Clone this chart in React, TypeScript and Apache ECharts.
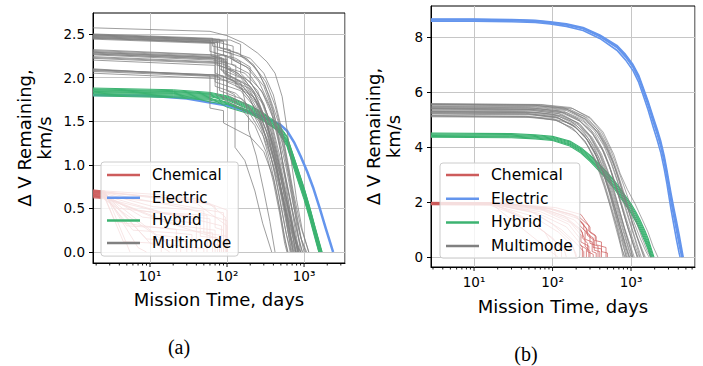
import React, { useEffect, useRef } from 'react';
import * as echarts from 'echarts';

type Pt = [number, number];

const FONT = 'DejaVu Sans';
const LEGEND_NAMES = ['Chemical', 'Electric', 'Hybrid', 'Multimode'];
const C_RED = '#cd5c5c';
const C_BLUE = '#6495ed';
const C_GREEN = '#3cb371';
const C_GRAY = '#808080';

// ---------------- Panel (a) ----------------
const Y_TICKS_A = [0, 0.5, 1.0, 1.5, 2.0, 2.5];
const X_MAJOR_A = [10, 100, 1000];
const X_MINOR_A = [2, 3, 4, 5, 6, 7, 8, 9, 20, 30, 40, 50, 60, 70, 80, 90, 200, 300, 400, 500, 600, 700, 800, 900, 2000, 3000];

const CHEM_A: Pt[][] = [
  [[1.82, 0.71], [2.6, 0.70], [5.5, 0]],
  [[1.82, 0.70], [2.5, 0.69], [7, 0.05], [9, 0]],
  [[1.82, 0.69], [2.6, 0.68], [10, 0.10], [14, 0.06], [14, 0]],
  [[1.82, 0.68], [2.5, 0.67], [12, 0.20], [25, 0.16], [25, 0]],
  [[1.82, 0.67], [2.6, 0.66], [8, 0.40], [40, 0.33], [40, 0]],
  [[1.82, 0.66], [2.5, 0.65], [15, 0.45], [60, 0.38], [60, 0.10], [80, 0.08], [80, 0]],
  [[1.82, 0.71], [2.6, 0.70], [12, 0.66], [40, 0.61], [100, 0.48], [100, 0]],
  [[1.82, 0.65], [2.5, 0.64], [20, 0.55], [90, 0.45], [90, 0]],
  [[1.82, 0.64], [2.6, 0.63], [6, 0.25], [20, 0.22], [35, 0.20], [35, 0]],
  [[1.82, 0.63], [2.5, 0.62], [25, 0.30], [70, 0.25], [70, 0]],
  [[1.82, 0.69], [2.6, 0.68], [30, 0.50], [100, 0.36], [100, 0]],
  [[1.82, 0.62], [2.5, 0.61], [18, 0.08], [50, 0.04], [50, 0]],
  [[1.82, 0.68], [2.5, 0.67], [4, 0.50], [10, 0.46], [55, 0.42], [55, 0]],
  [[1.82, 0.66], [2.6, 0.65], [9, 0.15], [30, 0.12], [30, 0]],
  [[1.82, 0.70], [2.5, 0.69], [40, 0.56], [100, 0.30], [100, 0]],
  [[1.82, 0.64], [2.5, 0.63], [15, 0.35], [80, 0.15], [80, 0]],
  [[1.82, 0.67], [2.6, 0.66], [5, 0.30], [12, 0.28], [65, 0.22], [65, 0]],
  [[1.82, 0.63], [2.5, 0.62], [20, 0.42], [45, 0.40], [45, 0.18], [75, 0.16], [75, 0]],
  [[1.82, 0.70], [2.6, 0.69], [16, 0.62], [60, 0.55], [95, 0.40], [95, 0]],
  [[1.82, 0.65], [2.5, 0.64], [7, 0.48], [30, 0.40], [85, 0.30], [85, 0]],
  [[1.82, 0.68], [2.6, 0.67], [11, 0.52], [50, 0.47], [50, 0.22], [100, 0.18], [100, 0]],
  [[1.82, 0.66], [2.5, 0.65], [3.5, 0.35], [8, 0.30], [22, 0.26], [22, 0]],
  [[1.82, 0.69], [2.5, 0.68], [35, 0.60], [70, 0.52], [70, 0.28], [90, 0.25], [90, 0]],
  [[1.82, 0.64], [2.6, 0.63], [4.5, 0.12], [12, 0.10], [18, 0]],
];

const ELEC_A: Pt[][] = [
  [[1.82, 1.80], [10, 1.79], [30, 1.76], [100, 1.68], [200, 1.60], [350, 1.52], [490, 1.46], [600, 1.39],
   [750, 1.25], [900, 1.10], [1100, 0.92], [1310, 0.74], [1600, 0.50], [1900, 0.28], [2200, 0.10], [2380, 0]],
];

const HYB_A_T = [1.82, 20, 60, 100, 200, 300, 450, 600, 800, 1000, 1200, 1400];
const HYB_A_V: number[][] = [
  [1.88, 1.86, 1.83, 1.79, 1.68, 1.59, 1.48, 1.33, 1.00, 0.74, 0.50, 0.28],
  [1.87, 1.85, 1.82, 1.78, 1.67, 1.58, 1.46, 1.31, 0.98, 0.72, 0.48, 0.26],
  [1.86, 1.84, 1.81, 1.70, 1.62, 1.54, 1.43, 1.27, 0.95, 0.69, 0.45, 0.23],
  [1.85, 1.83, 1.80, 1.76, 1.65, 1.56, 1.45, 1.29, 0.96, 0.70, 0.46, 0.24],
  [1.84, 1.82, 1.79, 1.75, 1.64, 1.55, 1.44, 1.28, 0.94, 0.68, 0.44, 0.22],
  [1.83, 1.81, 1.78, 1.74, 1.63, 1.54, 1.43, 1.26, 0.92, 0.66, 0.42, 0.20],
  [1.82, 1.80, 1.77, 1.66, 1.58, 1.50, 1.40, 1.24, 0.90, 0.64, 0.40, 0.18],
  [1.81, 1.79, 1.76, 1.72, 1.61, 1.52, 1.41, 1.24, 0.90, 0.64, 0.40, 0.18],
  [1.80, 1.78, 1.75, 1.71, 1.60, 1.51, 1.40, 1.22, 0.88, 0.62, 0.38, 0.16],
  [1.79, 1.77, 1.74, 1.70, 1.59, 1.50, 1.39, 1.21, 0.86, 0.60, 0.36, 0.14],
  [1.86, 1.84, 1.81, 1.77, 1.66, 1.57, 1.47, 1.32, 0.99, 0.73, 0.49, 0.27],
  [1.84, 1.82, 1.72, 1.69, 1.60, 1.52, 1.42, 1.26, 0.93, 0.67, 0.43, 0.21],
];
const HYB_A_END = [1720, 1700, 1660, 1670, 1630, 1610, 1580, 1590, 1560, 1550, 1690, 1620];

const MULTI_A: Pt[][] = [
  [[1.82, 2.57], [60, 2.53], [100, 2.48], [160, 2.40], [250, 2.28], [330, 2.18], [420, 2.05], [520, 1.78], [580, 1.5], [680, 1.05], [800, 0.6], [950, 0.25], [1150, 0]],
  [[1.82, 2.50], [65, 2.45], [65, 2.36], [110, 2.32], [110, 2.22], [200, 2.10], [300, 1.90], [400, 1.60], [520, 1.25], [640, 0.85], [760, 0.45], [900, 0]],
  [[1.82, 2.49], [70, 2.44], [90, 2.42], [90, 2.25], [150, 2.18], [150, 2.05], [250, 1.85], [330, 1.55], [440, 1.15], [560, 0.72], [680, 0.32], [780, 0]],
  [[1.82, 2.48], [60, 2.43], [60, 2.30], [130, 2.22], [200, 2.12], [200, 1.95], [300, 1.70], [380, 1.40], [480, 1.00], [600, 0.60], [720, 0.25], [830, 0]],
  [[1.82, 2.47], [75, 2.42], [75, 2.15], [140, 2.05], [220, 1.85], [300, 1.55], [390, 1.20], [480, 0.80], [580, 0.40], [680, 0]],
  [[1.82, 2.46], [80, 2.40], [120, 2.36], [120, 2.20], [180, 2.12], [260, 1.95], [350, 1.70], [450, 1.35], [550, 0.95], [680, 0.55], [820, 0.20], [950, 0]],
  [[1.82, 2.45], [68, 2.40], [68, 2.28], [100, 2.25], [100, 2.10], [170, 1.98], [250, 1.75], [340, 1.45], [430, 1.05], [520, 0.65], [620, 0.30], [720, 0]],
  [[1.82, 2.32], [70, 2.26], [70, 2.15], [120, 2.08], [200, 1.95], [280, 1.75], [380, 1.45], [480, 1.05], [600, 0.65], [720, 0.30], [860, 0]],
  [[1.82, 2.30], [80, 2.24], [80, 2.10], [150, 2.00], [230, 1.80], [310, 1.55], [400, 1.20], [500, 0.85], [600, 0.45], [720, 0]],
  [[1.82, 2.29], [60, 2.23], [100, 2.18], [100, 1.95], [180, 1.85], [260, 1.60], [350, 1.30], [440, 0.95], [540, 0.55], [640, 0.20], [740, 0]],
  [[1.82, 2.28], [90, 2.22], [90, 2.05], [160, 1.95], [240, 1.72], [330, 1.45], [420, 1.10], [540, 0.70], [680, 0.35], [840, 0]],
  [[1.82, 2.26], [65, 2.20], [130, 2.14], [130, 1.90], [220, 1.78], [300, 1.55], [400, 1.22], [500, 0.85], [620, 0.45], [780, 0]],
  [[1.82, 2.24], [75, 2.18], [75, 2.00], [140, 1.92], [200, 1.75], [290, 1.45], [370, 1.10], [460, 0.70], [560, 0.30], [660, 0]],
  [[1.82, 2.22], [85, 2.16], [110, 2.12], [110, 1.98], [190, 1.88], [270, 1.65], [370, 1.38], [470, 1.00], [590, 0.60], [740, 0.20], [900, 0]],
  [[1.82, 2.20], [70, 2.14], [70, 1.95], [150, 1.85], [250, 1.62], [340, 1.35], [430, 1.00], [540, 0.60], [660, 0.20], [760, 0]],
  [[1.82, 2.10], [60, 2.02], [60, 1.65], [90, 1.62], [90, 1.48], [200, 1.32], [300, 1.15], [400, 0.85], [480, 0.50], [560, 0.15], [620, 0]],
  [[1.82, 2.09], [70, 2.03], [70, 1.90], [130, 1.82], [200, 1.65], [280, 1.40], [360, 1.05], [450, 0.65], [540, 0.25], [610, 0]],
  [[1.82, 2.07], [80, 2.01], [80, 1.85], [160, 1.75], [250, 1.55], [350, 1.25], [460, 0.90], [570, 0.50], [690, 0.15], [780, 0]],
  [[1.82, 2.05], [65, 1.99], [100, 1.96], [100, 1.80], [170, 1.70], [260, 1.50], [360, 1.20], [480, 0.80], [620, 0.40], [780, 0.10], [900, 0]],
  [[1.82, 2.44], [70, 2.39], [70, 2.20], [100, 2.17], [100, 1.85], [127, 1.80], [127, 1.20], [170, 1.05], [230, 0.70], [290, 0.33], [380, 0]],
  [[1.82, 2.47], [90, 2.41], [90, 2.30], [180, 2.22], [260, 2.05], [350, 1.80], [460, 1.50], [560, 1.15], [680, 0.75], [820, 0.35], [1000, 0]],
  [[1.82, 2.31], [95, 2.25], [95, 2.12], [170, 2.05], [280, 1.85], [380, 1.62], [480, 1.30], [590, 0.95], [720, 0.55], [880, 0.20], [1050, 0]],
  [[1.82, 2.27], [70, 2.21], [70, 2.05], [120, 1.97], [190, 1.78], [270, 1.52], [340, 1.22], [420, 0.90], [500, 0.55], [590, 0.20], [680, 0]],
  [[1.82, 2.48], [100, 2.42], [100, 2.32], [200, 2.22], [300, 2.05], [400, 1.80], [500, 1.45], [610, 1.05], [740, 0.65], [900, 0.30], [1150, 0]],
  [[1.82, 2.08], [90, 2.02], [90, 1.75], [150, 1.65], [230, 1.45], [320, 1.15], [400, 0.80], [480, 0.45], [560, 0.10], [600, 0]],
  [[1.82, 2.23], [80, 2.17], [80, 2.02], [140, 1.95], [230, 1.76], [320, 1.50], [420, 1.18], [530, 0.80], [660, 0.40], [820, 0]],
  [[1.82, 2.46], [62, 2.41], [62, 2.25], [95, 2.20], [95, 2.00], [160, 1.90], [240, 1.70], [320, 1.40], [410, 1.05], [500, 0.65], [600, 0.28], [700, 0]],
  [[1.82, 2.29], [85, 2.23], [85, 2.08], [150, 1.95], [190, 1.55], [190, 1.40], [240, 1.10], [300, 0.70], [360, 0.35], [420, 0]],
  [[1.82, 2.49], [110, 2.43], [150, 2.38], [150, 2.25], [230, 2.12], [320, 1.95], [420, 1.68], [520, 1.35], [630, 0.95], [760, 0.55], [920, 0.15], [1080, 0]],
  [[1.82, 2.45], [75, 2.40], [75, 2.32], [115, 2.28], [115, 2.15], [190, 2.05], [290, 1.82], [390, 1.55], [490, 1.18], [600, 0.78], [720, 0.40], [860, 0]],
  [[1.82, 2.27], [100, 2.21], [100, 2.02], [200, 1.90], [300, 1.68], [400, 1.40], [500, 1.05], [620, 0.70], [760, 0.35], [950, 0]],
  [[1.82, 2.09], [75, 2.03], [75, 1.80], [130, 1.72], [200, 1.58], [300, 1.32], [400, 1.00], [520, 0.62], [650, 0.30], [800, 0]],
  [[1.82, 2.49], [80, 2.44], [80, 2.34], [140, 2.28], [220, 2.15], [310, 1.92], [400, 1.62], [480, 1.25], [560, 0.88], [650, 0.50], [760, 0.18], [840, 0]],
];

// ---------------- Panel (b) ----------------
const Y_TICKS_B = [0, 2, 4, 6, 8];
const X_MAJOR_B = [10, 100, 1000];
const X_MINOR_B = [3, 4, 5, 6, 7, 8, 9, 20, 30, 40, 50, 60, 70, 80, 90, 200, 300, 400, 500, 600, 700, 800, 900, 2000, 3000, 4000, 5000, 6000];

const CHEM_B: Pt[][] = [
  [[2.83, 1.99], [16, 1.98], [117, 0]],
  [[2.83, 1.95], [17, 1.94], [60, 1.2], [140, 0.3], [150, 0]],
  [[2.83, 1.92], [18, 1.91], [50, 1.7], [100, 1.2], [170, 0.6], [200, 0]],
  [[2.83, 1.97], [20, 1.96], [65, 1.80], [140, 1.5], [230, 1.0], [260, 0.6], [260, 0.4], [300, 0.2], [300, 0]],
  [[2.83, 1.95], [19, 1.94], [70, 1.75], [150, 1.4], [240, 0.9], [240, 0.7], [280, 0.5], [280, 0.2], [330, 0.1], [330, 0]],
  [[2.83, 1.98], [20, 1.97], [80, 1.80], [180, 1.55], [250, 1.2], [250, 1.0], [300, 0.8], [300, 0.5], [380, 0.4], [380, 0]],
  [[2.83, 1.93], [18, 1.92], [60, 1.6], [130, 1.0], [200, 0.5], [250, 0.2], [250, 0]],
  [[2.83, 1.90], [16, 1.89], [45, 1.4], [100, 0.7], [130, 0.3], [130, 0]],
  [[2.83, 1.97], [20, 1.96], [90, 1.78], [200, 1.5], [270, 1.05], [270, 0.85], [330, 0.7], [330, 0.35], [420, 0.3], [420, 0]],
  [[2.83, 1.94], [19, 1.93], [75, 1.70], [170, 1.25], [230, 0.80], [230, 0.55], [290, 0.40], [290, 0]],
  [[2.83, 1.99], [20, 1.98], [100, 1.75], [220, 1.45], [300, 1.1], [300, 0.9], [360, 0.75], [360, 0.45], [480, 0.35], [480, 0]],
  [[2.83, 1.91], [17, 1.90], [55, 1.5], [120, 0.9], [180, 0.4], [200, 0.1], [200, 0]],
  [[2.83, 1.96], [20, 1.95], [85, 1.72], [190, 1.35], [260, 0.95], [260, 0.65], [320, 0.55], [320, 0.2], [360, 0.15], [360, 0]],
  [[2.83, 1.98], [20, 1.97], [110, 1.80], [230, 1.55], [290, 1.15], [290, 0.95], [350, 0.8], [350, 0.6], [420, 0.55], [420, 0.2], [500, 0.15], [500, 0]],
  [[2.83, 1.92], [18, 1.91], [65, 1.60], [150, 1.1], [210, 0.6], [240, 0.35], [240, 0]],
  [[2.83, 1.94], [19, 1.93], [70, 1.65], [160, 1.2], [220, 0.7], [220, 0.45], [270, 0.3], [270, 0]],
  [[2.83, 1.97], [20, 1.96], [95, 1.74], [210, 1.4], [280, 0.98], [280, 0.78], [340, 0.62], [340, 0.25], [400, 0.2], [400, 0]],
  [[2.83, 1.93], [18, 1.92], [40, 1.5], [80, 0.9], [105, 0.3], [110, 0]],
];

const ELEC_B_T = [2.83, 10, 30, 60, 93, 150, 245, 400, 660, 850, 1060, 1250, 1420, 1650, 1900, 2150, 2400, 2650, 2870, 3050, 3240, 3500, 3800, 4100];
const ELEC_B_V: number[][] = [
  [8.66, 8.66, 8.64, 8.61, 8.56, 8.48, 8.35, 8.08, 7.70, 7.37, 7.00, 6.62, 6.18, 5.67, 5.12, 4.66, 4.20, 3.68, 3.15, 2.72, 2.30, 1.80, 1.30, 0.82],
  [8.64, 8.64, 8.62, 8.59, 8.54, 8.46, 8.32, 8.05, 7.66, 7.32, 6.95, 6.56, 6.12, 5.60, 5.04, 4.57, 4.10, 3.56, 3.02, 2.58, 2.15, 1.64, 1.12, 0.63],
  [8.62, 8.62, 8.60, 8.57, 8.52, 8.44, 8.30, 8.02, 7.62, 7.28, 6.90, 6.50, 6.05, 5.52, 4.95, 4.48, 4.00, 3.45, 2.90, 2.45, 2.00, 1.48, 0.95, 0.45],
  [8.58, 8.58, 8.56, 8.53, 8.48, 8.39, 8.24, 7.95, 7.52, 7.17, 6.78, 6.36, 5.90, 5.35, 4.76, 4.27, 3.78, 3.20, 2.65, 2.18, 1.72, 1.18, 0.62, 0.15],
];
const ELEC_B_END = [4620, 4520, 4430, 4220];

const HYB_B_T = [2.83, 30, 60, 100, 166, 230, 300, 370, 450, 600, 800, 1000, 1150, 1300, 1500, 1650, 1750];
const HYB_B_V: number[][] = [
  [4.51, 4.49, 4.45, 4.39, 4.22, 3.98, 3.71, 3.46, 3.21, 2.82, 2.33, 1.94, 1.65, 1.36, 0.97, 0.68, 0.44],
  [4.48, 4.46, 4.42, 4.36, 4.19, 3.94, 3.67, 3.41, 3.16, 2.76, 2.27, 1.87, 1.58, 1.28, 0.89, 0.59, 0.35],
  [4.45, 4.43, 4.39, 4.33, 4.15, 3.90, 3.62, 3.36, 3.10, 2.70, 2.20, 1.80, 1.50, 1.20, 0.80, 0.50, 0.25],
  [4.42, 4.40, 4.36, 4.30, 4.11, 3.86, 3.57, 3.31, 3.04, 2.64, 2.13, 1.73, 1.42, 1.12, 0.72, 0.42, 0.17],
  [4.39, 4.37, 4.33, 4.27, 4.08, 3.82, 3.53, 3.26, 2.99, 2.58, 2.07, 1.66, 1.35, 1.05, 0.64, 0.34, 0.10],
  [4.36, 4.34, 4.30, 4.24, 4.04, 3.78, 3.48, 3.21, 2.94, 2.52, 2.01, 1.60, 1.29, 0.98, 0.57, 0.27, 0.04],
];
const HYB_B_END = [1960, 1910, 1860, 1820, 1790, 1770];

const MULTI_B: Pt[][] = [
  [[2.83, 5.10], [50, 5.08], [110, 4.98], [180, 4.70], [260, 4.20], [350, 3.50], [450, 2.60], [540, 1.90], [640, 1.20], [720, 0.60], [790, 0]],
  [[2.83, 5.12], [60, 5.09], [120, 4.95], [200, 4.55], [280, 4.05], [380, 3.30], [470, 2.50], [560, 1.70], [650, 1.00], [740, 0.40], [840, 0]],
  [[2.83, 5.15], [45, 5.12], [100, 5.04], [170, 4.85], [250, 4.45], [340, 3.85], [440, 3.05], [520, 2.40], [610, 1.65], [700, 0.95], [800, 0.35], [880, 0]],
  [[2.83, 5.28], [50, 5.25], [120, 5.12], [200, 4.80], [290, 4.30], [390, 3.60], [480, 2.90], [580, 2.15], [680, 1.45], [780, 0.80], [880, 0.25], [940, 0]],
  [[2.83, 5.30], [60, 5.27], [130, 5.15], [220, 4.85], [320, 4.35], [420, 3.75], [520, 3.05], [620, 2.35], [730, 1.60], [850, 0.90], [980, 0.30], [1050, 0]],
  [[2.83, 5.26], [45, 5.23], [110, 5.10], [190, 4.78], [270, 4.32], [360, 3.70], [460, 2.95], [540, 2.40], [640, 1.70], [740, 1.05], [860, 0.45], [960, 0]],
  [[2.83, 5.40], [55, 5.37], [130, 5.25], [220, 4.95], [320, 4.50], [430, 3.90], [530, 3.30], [640, 2.55], [760, 1.85], [900, 1.10], [1050, 0.50], [1200, 0]],
  [[2.83, 5.42], [70, 5.38], [150, 5.25], [250, 4.92], [350, 4.45], [460, 3.80], [560, 3.10], [680, 2.30], [800, 1.60], [950, 0.90], [1100, 0.35], [1230, 0]],
  [[2.83, 5.44], [60, 5.41], [140, 5.30], [240, 5.00], [340, 4.60], [450, 4.05], [560, 3.40], [670, 2.75], [800, 2.00], [950, 1.30], [1120, 0.65], [1300, 0]],
  [[2.83, 5.38], [50, 5.35], [120, 5.22], [200, 4.90], [300, 4.40], [400, 3.75], [500, 3.05], [600, 2.35], [700, 1.70], [820, 1.05], [950, 0.45], [1060, 0]],
  [[2.83, 5.55], [60, 5.52], [160, 5.40], [280, 5.05], [400, 4.55], [520, 3.95], [640, 3.25], [760, 2.60], [900, 1.95], [1080, 1.30], [1300, 0.70], [1550, 0.20], [1700, 0]],
  [[2.83, 5.58], [70, 5.55], [170, 5.44], [300, 5.08], [440, 4.55], [600, 3.75], [725, 3.05], [900, 2.45], [1120, 1.95], [1400, 1.35], [1650, 0.90], [1900, 0.40], [2200, 0]],
  [[2.83, 5.56], [55, 5.53], [140, 5.42], [250, 5.12], [370, 4.65], [490, 4.05], [600, 3.40], [720, 2.70], [860, 2.00], [1020, 1.35], [1200, 0.75], [1400, 0.25], [1520, 0]],
  [[2.83, 5.53], [65, 5.50], [150, 5.38], [260, 5.02], [380, 4.50], [500, 3.85], [620, 3.10], [740, 2.40], [880, 1.70], [1030, 1.05], [1200, 0.45], [1350, 0]],
  [[2.83, 5.32], [45, 5.29], [100, 5.20], [170, 4.95], [250, 4.55], [340, 4.00], [430, 3.35], [520, 2.70], [620, 2.00], [720, 1.35], [830, 0.75], [950, 0.20], [1000, 0]],
  [[2.83, 5.20], [55, 5.17], [120, 5.05], [200, 4.70], [290, 4.20], [380, 3.55], [470, 2.85], [560, 2.15], [660, 1.40], [760, 0.75], [860, 0]],
  [[2.83, 5.46], [50, 5.43], [120, 5.32], [210, 5.02], [310, 4.60], [420, 4.00], [520, 3.40], [630, 2.70], [750, 2.00], [880, 1.35], [1030, 0.75], [1180, 0.25], [1280, 0]],
  [[2.83, 5.35], [60, 5.32], [130, 5.20], [220, 4.85], [310, 4.35], [400, 3.80], [490, 3.20], [590, 2.50], [700, 1.80], [820, 1.10], [960, 0.50], [1100, 0]],
  [[2.83, 5.50], [65, 5.47], [160, 5.35], [270, 5.00], [390, 4.50], [510, 3.85], [630, 3.20], [760, 2.45], [900, 1.80], [1060, 1.15], [1250, 0.55], [1450, 0]],
  [[2.83, 5.24], [50, 5.21], [115, 5.08], [190, 4.75], [270, 4.30], [360, 3.65], [450, 3.00], [540, 2.30], [630, 1.60], [720, 1.00], [820, 0.45], [900, 0]],
  [[2.83, 5.48], [60, 5.45], [150, 5.33], [240, 5.05], [350, 4.65], [470, 4.10], [590, 3.45], [710, 2.80], [840, 2.10], [990, 1.45], [1150, 0.85], [1350, 0.30], [1480, 0]],
  [[2.83, 5.14], [45, 5.11], [105, 5.00], [175, 4.70], [255, 4.25], [340, 3.65], [430, 2.95], [510, 2.25], [600, 1.55], [690, 0.90], [770, 0.30], [820, 0]],
  [[2.83, 5.40], [55, 5.37], [140, 5.25], [230, 4.92], [330, 4.45], [440, 3.85], [550, 3.15], [660, 2.45], [780, 1.75], [920, 1.05], [1080, 0.45], [1200, 0]],
  [[2.83, 5.29], [60, 5.26], [125, 5.14], [210, 4.82], [300, 4.35], [400, 3.70], [500, 2.95], [600, 2.25], [700, 1.60], [810, 0.95], [930, 0.35], [1020, 0]],
  [[2.83, 5.57], [70, 5.54], [180, 5.40], [300, 5.05], [420, 4.55], [550, 3.90], [680, 3.20], [820, 2.55], [980, 1.90], [1160, 1.30], [1380, 0.70], [1620, 0.20], [1800, 0]],
  [[2.83, 5.22], [50, 5.19], [110, 5.08], [185, 4.78], [265, 4.35], [355, 3.75], [445, 3.05], [540, 2.35], [640, 1.65], [745, 1.00], [850, 0.40], [950, 0]],
];

// ---------------- helpers ----------------
function fromGrid(T: number[], V: number[][], END: number[]): Pt[][] {
  return V.map((vals, i) => {
    const pts: Pt[] = T.map((t, j) => [t, vals[j]] as Pt);
    pts.push([END[i], 0]);
    return pts;
  });
}

function lines(name: string, data: Pt[][], color: string, width: number, gi: number, opacity = 1): any[] {
  return data.map((d) => ({
    type: 'line',
    name,
    data: d,
    xAxisIndex: gi,
    yAxisIndex: gi,
    symbol: 'none',
    showSymbol: false,
    silent: true,
    clip: true,
    color,
    lineStyle: { color, width, opacity, join: 'round' },
    itemStyle: { color },
    z: 2,
  }));
}

const SUP: Record<number, string> = { 0: '⁰', 1: '¹', 2: '²', 3: '³', 4: '⁴' };
function fmtPow(v: number): string {
  const e = Math.log10(v);
  const r = Math.round(e);
  if (Math.abs(e - r) > 1e-6) return '';
  return '10' + SUP[r];
}

function tickSeries(gi: number, values: number[], yMin: number, len: number): any {
  return {
    type: 'custom',
    xAxisIndex: gi,
    yAxisIndex: gi,
    silent: true,
    clip: false,
    z: 5,
    data: values.map((t) => [t, yMin]),
    renderItem: (params: any, api: any) => {
      const p = api.coord([api.value(0), api.value(1)]);
      return {
        type: 'line',
        shape: { x1: p[0], y1: p[1], x2: p[0], y2: p[1] + len },
        style: { stroke: '#000', lineWidth: 0.9 },
      };
    },
  };
}

function legend(left: number, top: number, lineHeight: number, gap: number, pad: number[], fs: number): any {
  return {
    data: LEGEND_NAMES,
    orient: 'vertical',
    left,
    top,
    icon: 'rect',
    itemWidth: 33,
    itemHeight: 2.5,
    itemGap: gap,
    padding: pad,
    backgroundColor: 'rgba(255,255,255,0.8)',
    borderColor: '#cccccc',
    borderWidth: 1,
    borderRadius: 3,
    selectedMode: false,
    z: 10,
    textStyle: { fontSize: fs, fontFamily: FONT, color: '#000', lineHeight, padding: [0, 0, 0, 7] },
  };
}

const YNAME = 'Δ V Remaining,\nkm/s';

export default function App() {
  const ref = useRef<HTMLDivElement>(null);
  useEffect(() => {
    if (!ref.current) return;
    const chart = echarts.init(ref.current, undefined, { renderer: 'svg' });
    const axisTxt = { fontSize: 13.5, fontFamily: FONT, color: '#000' };
    const nameTxt = { fontSize: 18, fontFamily: FONT, color: '#000', lineHeight: 20 };
    const split = { show: true, lineStyle: { color: '#c6c6c6', width: 1 } };
    const xAxisBase = (gi: number, min: number, max: number, nameGap: number, margin: number) => ({
      type: 'log',
      logBase: 10,
      gridIndex: gi,
      min,
      max,
      axisLine: { show: true, onZero: false, lineStyle: { color: '#000', width: 1 } },
      axisTick: { show: false },
      minorTick: { show: false },
      axisLabel: { ...axisTxt, margin, formatter: fmtPow },
      splitLine: split,
      name: 'Mission Time, days',
      nameLocation: 'middle',
      nameGap,
      nameTextStyle: nameTxt,
    });
    const yAxisBase = (gi: number, min: number, max: number, ticks: number[], step: number, dec: number, nameGap: number) => ({
      type: 'value',
      gridIndex: gi,
      min,
      max,
      axisLine: { show: true, onZero: false, lineStyle: { color: '#000', width: 1 } },
      axisTick: { show: true, length: 4, lineStyle: { color: '#000' }, customValues: ticks },
      axisLabel: {
        ...axisTxt,
        margin: 8,
        customValues: ticks,
        formatter: (v: number) => (Math.abs(v / step - Math.round(v / step)) < 1e-6 ? v.toFixed(dec) : ''),
      },
      splitLine: split,
      name: YNAME,
      nameLocation: 'middle',
      nameGap,
      nameTextStyle: nameTxt,
    });

    const series: any[] = [
      ...lines('Chemical', CHEM_A, C_RED, 0.8, 0, 0.95),
      ...lines('Electric', ELEC_A, C_BLUE, 2.5, 0),
      ...lines('Hybrid', fromGrid(HYB_A_T, HYB_A_V, HYB_A_END), C_GREEN, 1, 0),
      ...lines('Multimode', MULTI_A, C_GRAY, 0.9, 0, 0.85),
      ...lines('Chemical', CHEM_B, C_RED, 0.8, 1, 0.9),
      ...lines('Electric', fromGrid(ELEC_B_T, ELEC_B_V, ELEC_B_END), C_BLUE, 1.6, 1),
      ...lines('Hybrid', fromGrid(HYB_B_T, HYB_B_V, HYB_B_END), C_GREEN, 1.1, 1),
      ...lines('Multimode', MULTI_B, C_GRAY, 0.8, 1, 0.85),
      tickSeries(0, X_MAJOR_A, -0.126, 4),
      tickSeries(0, X_MINOR_A, -0.126, 2.5),
      tickSeries(1, X_MAJOR_B, -0.36, 4),
      tickSeries(1, X_MINOR_B, -0.36, 2.5),
    ];

    chart.setOption({
      animation: false,
      backgroundColor: '#fff',
      grid: [
        { left: 93, top: 13, width: 252, height: 250, show: true, borderColor: '#000', borderWidth: 1, backgroundColor: 'transparent' },
        { left: 431, top: 6, width: 264, height: 261, show: true, borderColor: '#000', borderWidth: 1, backgroundColor: 'transparent' },
      ],
      xAxis: [xAxisBase(0, 1.82, 3400, 26, 6), xAxisBase(1, 2.83, 6530, 29, 8)],
      yAxis: [
        yAxisBase(0, -0.126, 2.74, Y_TICKS_A, 0.5, 1, 39),
        yAxisBase(1, -0.36, 9.13, Y_TICKS_B, 2, 0, 28),
      ],
      legend: [
        legend(101, 162, 16, 6.7, [5, 7, 5, 6], 15),
        legend(440, 163, 17, 6.7, [3.5, 7, 3.5, 6], 15.5),
      ],
      graphic: [
        {
          type: 'text', x: 179, y: 347, silent: true,
          style: { text: '(a)', fontSize: 20, fontFamily: 'Liberation Serif', fill: '#000', align: 'center', verticalAlign: 'middle', textAlign: 'center', textVerticalAlign: 'middle' },
        },
        {
          type: 'text', x: 526, y: 354, silent: true,
          style: { text: '(b)', fontSize: 20, fontFamily: 'Liberation Serif', fill: '#000', align: 'center', verticalAlign: 'middle', textAlign: 'center', textVerticalAlign: 'middle' },
        },
      ],
      series,
    });
    return () => chart.dispose();
  }, []);
  return <div ref={ref} style={{ position: 'absolute', left: 0, top: 0, width: 703, height: 366 }} />;
}
